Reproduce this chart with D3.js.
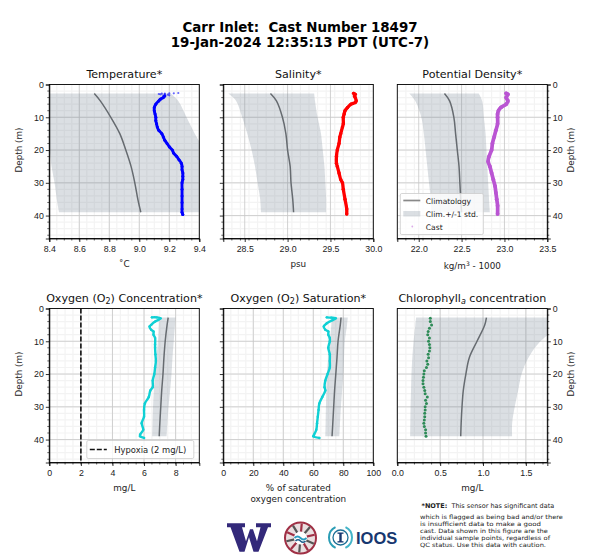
<!DOCTYPE html>
<html>
<head>
<meta charset="utf-8">
<script src="https://d3js.org/d3.v7.min.js"></script>
<style>
  html, body { margin: 0; padding: 0; background: #fff; }
  svg { display: block; font-family: "DejaVu Sans", sans-serif; }
  text { white-space: pre; }
  .tick text { font-size: 8.8px; fill: #222; }
  .tick line, .domain { stroke: #000; stroke-width: 0.8; }
  .grid-major line { stroke: #c6c6c6; stroke-width: 0.8; }
  .grid-minor line { stroke: #f3f3f3; stroke-width: 1.2; }
</style>
</head>
<body>
<svg id="chart" width="600" height="560"></svg>
<script>
// depth of each row, shared by climatology and band
const climDepth = [2.75, 5, 10, 15, 20, 25, 30, 35, 39];

// temperature
const tempClim = [8.70, 8.74, 8.81, 8.87, 8.91, 8.945, 8.97, 8.99, 9.01];
const tempLow  = [8.14, 8.20, 8.28, 8.35, 8.40, 8.415, 8.435, 8.45, 8.465];
const tempHigh = [9.21, 9.26, 9.315, 9.37, 9.43, 9.46, 9.48, 9.50, 9.52];
const tempSprayDepth = [2.6, 2.7, 2.7, 2.8, 2.8, 2.9, 3, 3, 3.1, 3.3, 3.4];
const tempSpray = [9.26, 9.23, 9.20, 9.17, 9.15, 9.13, 9.14, 9.17, 9.19, 9.20, 9.16];
const tempCastDepth = [3.5, 4, 4.5, 5, 6, 7, 8, 9, 10, 11, 12, 13, 14, 15, 16, 17, 18, 19, 20, 21, 22, 23, 24, 25, 26, 27, 28, 29, 30, 32, 34, 36, 38, 39, 39.7];
const tempCast = [9.17, 9.16, 9.14, 9.13, 9.11, 9.10, 9.10, 9.105, 9.11, 9.11, 9.115, 9.12, 9.13, 9.15, 9.16, 9.17, 9.185, 9.20, 9.22, 9.23, 9.25, 9.265, 9.28, 9.285, 9.285, 9.29, 9.29, 9.29, 9.285, 9.285, 9.285, 9.285, 9.285, 9.285, 9.29];

// salinity
const salClim = [28.80, 28.87, 28.94, 28.98, 29.00, 29.03, 29.04, 29.06, 29.07];
const salLow  = [28.31, 28.40, 28.47, 28.53, 28.58, 28.62, 28.65, 28.68, 28.69];
const salHigh = [29.31, 29.32, 29.35, 29.39, 29.41, 29.43, 29.44, 29.45, 29.45];
const salCastDepth = [2.7, 3, 3.5, 4, 5, 5.5, 6, 7, 8, 9, 10, 12, 13, 15, 16, 18, 20, 22, 24, 25, 27, 29, 30, 32, 35, 38, 39.5];
const salCast = [29.77, 29.79, 29.78, 29.79, 29.80, 29.79, 29.74, 29.70, 29.67, 29.66, 29.65, 29.65, 29.64, 29.62, 29.61, 29.60, 29.58, 29.57, 29.57, 29.58, 29.60, 29.62, 29.64, 29.65, 29.67, 29.69, 29.69];

// potential density
const rhoClim = [22.30, 22.36, 22.41, 22.43, 22.45, 22.47, 22.48, 22.49, 22.50];
const rhoLow  = [21.89, 21.96, 22.03, 22.06, 22.08, 22.10, 22.12, 22.14, 22.15];
const rhoHigh = [22.70, 22.74, 22.76, 22.78, 22.79, 22.80, 22.81, 22.82, 22.83];
const rhoCastDepth = [2.7, 3, 4, 5, 6, 7, 8, 9, 10, 12, 14, 16, 18, 20, 22, 23.5, 25, 27, 29, 31, 33, 35, 37, 39.5];
const rhoCast = [23.02, 23.04, 23.02, 23.04, 23.02, 22.96, 22.93, 22.92, 22.92, 22.92, 22.90, 22.88, 22.86, 22.85, 22.82, 22.81, 22.83, 22.85, 22.87, 22.89, 22.90, 22.91, 22.92, 22.92];

// oxygen concentration
const oxyClim = [7.53, 7.46, 7.34, 7.26, 7.20, 7.12, 7.06, 7.00, 6.96];
const oxyLow  = [6.96, 6.93, 6.88, 6.78, 6.69, 6.62, 6.57, 6.54, 6.52];
const oxyHigh = [8.00, 7.96, 7.88, 7.80, 7.74, 7.65, 7.55, 7.48, 7.43];
const oxyCastDepth = [2.7, 2.7, 3, 3.5, 4, 5, 5.5, 6.5, 7, 8, 9, 11, 12, 14, 16, 18, 20, 22, 24, 25, 27, 29, 31, 33, 35, 37, 38.5, 39, 39.5];
const oxyCast = [6.5, 6.8, 7.05, 6.9, 6.7, 6.45, 6.35, 6.45, 6.6, 6.6, 6.7, 6.7, 6.7, 6.72, 6.75, 6.7, 6.65, 6.55, 6.55, 6.4, 6.3, 6.05, 6.0, 6.0, 5.85, 5.95, 5.75, 5.75, 6.0];
const hypoxia = 2;

// oxygen saturation
const satClim = [78.5, 78.0, 76.5, 75.8, 75.0, 74.2, 73.6, 73.0, 72.5];
const satLow  = [72.2, 72.0, 71.0, 70.0, 69.0, 68.7, 68.4, 68.2, 68.0];
const satHigh = [83.0, 82.5, 81.0, 80.5, 80.0, 79.2, 78.4, 77.8, 77.3];
const satCastDepth = [2.7, 2.8, 3, 3.5, 4.5, 5.5, 6.5, 7, 8, 9, 10, 12, 14, 16, 18, 20, 22, 24, 25, 27, 29, 31, 33, 35, 37, 38.5, 39, 39.5];
const satCast = [69, 72, 75, 73, 69, 67, 68, 70, 70, 71, 71, 70, 71, 71, 71, 69.5, 68, 67.5, 68, 66, 64, 63.5, 63, 62.5, 62, 60.5, 60, 64];

// chlorophyll
const chlClim = [1.04, 1.02, 0.93, 0.84, 0.80, 0.77, 0.755, 0.745, 0.74];
const chlLow  = [0.22, 0.21, 0.19, 0.175, 0.165, 0.16, 0.155, 0.152, 0.15];
const chlHigh = [2.05, 1.92, 1.67, 1.53, 1.45, 1.41, 1.37, 1.34, 1.34];
const chlCastDepth = [3, 4, 5, 6, 7, 8, 9, 10, 11, 12, 13, 14, 15, 16, 17, 18, 19, 20, 21, 22, 23, 24, 25, 26, 27, 28, 29, 30, 31, 32, 33, 34, 35, 36, 37, 38, 39];
const chlCast = [0.385, 0.385, 0.40, 0.375, 0.36, 0.355, 0.375, 0.365, 0.375, 0.38, 0.375, 0.36, 0.365, 0.345, 0.355, 0.34, 0.315, 0.31, 0.305, 0.30, 0.30, 0.31, 0.32, 0.325, 0.35, 0.33, 0.34, 0.325, 0.325, 0.32, 0.32, 0.315, 0.31, 0.315, 0.33, 0.33, 0.335];

const svg = d3.select("#chart");
const panelW = 150, panelH = 154;
const depthDomain = [0, 47];

svg.append("text").attr("x", 300).attr("y", 32).attr("text-anchor", "middle")
  .style("font-size", "13.4px").style("font-weight", "bold").text("Carr Inlet:  Cast Number 18497");
svg.append("text").attr("x", 300).attr("y", 47).attr("text-anchor", "middle")
  .style("font-size", "13.4px").style("font-weight", "bold").text("19-Jan-2024 12:35:13 PDT (UTC-7)");

// one clip per panel, grid under band, band and lines on top
function drawPanel(p) {
  const g = svg.append("g").attr("transform", `translate(${p.x},${p.y})`);
  const x = d3.scaleLinear().domain(p.domain).range([0, panelW]);
  const y = d3.scaleLinear().domain(depthDomain).range([0, panelH]);
  const minorX = d3.range(p.domain[0], p.domain[1] + 1e-9, p.minor);

  g.append("clipPath").attr("id", "clip" + p.id).append("rect").attr("width", panelW).attr("height", panelH);

  g.append("g").attr("class", "grid-minor")
    .selectAll("line").data(minorX).join("line")
    .attr("x1", d => x(d)).attr("x2", d => x(d)).attr("y1", 0).attr("y2", panelH);
  g.append("g").attr("class", "grid-minor")
    .selectAll("line").data(d3.range(0, 47, 2)).join("line")
    .attr("x1", 0).attr("x2", panelW).attr("y1", d => y(d)).attr("y2", d => y(d));
  g.append("g").attr("class", "grid-major")
    .selectAll("line").data(p.ticks).join("line")
    .attr("x1", d => x(d)).attr("x2", d => x(d)).attr("y1", 0).attr("y2", panelH);
  g.append("g").attr("class", "grid-major")
    .selectAll("line").data([10, 20, 30, 40]).join("line")
    .attr("x1", 0).attr("x2", panelW).attr("y1", d => y(d)).attr("y2", d => y(d));

  const marks = g.append("g").attr("clip-path", `url(#clip${p.id})`);
  const band = d3.area().x0((d, i) => x(p.low[i])).x1((d, i) => x(p.high[i])).y(d => y(d)).curve(d3.curveCatmullRom);
  marks.append("path").attr("d", band(climDepth)).attr("fill", "#708090").attr("opacity", 0.25);

  const clim = d3.line().x((d, i) => x(p.clim[i])).y(d => y(d)).curve(d3.curveCatmullRom);
  marks.append("path").attr("d", clim(climDepth)).attr("fill", "none").attr("stroke", "#666b70").attr("stroke-width", 1.5);

  if (p.hline !== undefined) {
    marks.append("line").attr("x1", x(p.hline)).attr("x2", x(p.hline)).attr("y1", 0).attr("y2", panelH)
      .attr("stroke", "#111").attr("stroke-width", 1.6).attr("stroke-dasharray", "5,2");
  }

  const cast = d3.line().x((d, i) => x(p.cast[i])).y(d => y(d)).curve(d3.curveCatmullRom);
  if (p.castLine) {
    marks.append("path").attr("d", cast(p.castDepth)).attr("fill", "none")
      .attr("stroke", p.color).attr("stroke-width", p.castLine).attr("stroke-linejoin", "round").attr("stroke-linecap", "round");
  }
  marks.append("g").selectAll("circle").data(p.castDepth).join("circle")
    .attr("cx", (d, i) => x(p.cast[i])).attr("cy", d => y(d)).attr("r", p.r).attr("fill", p.color);
  if (p.spray) {
    marks.append("g").selectAll("circle").data(p.sprayDepth).join("circle")
      .attr("cx", (d, i) => x(p.spray[i])).attr("cy", d => y(d)).attr("r", 1.1).attr("fill", p.color).attr("opacity", 0.6);
  }

  // axes
  g.append("g").attr("transform", `translate(0,${panelH})`)
    .call(d3.axisBottom(x).tickValues(p.ticks).tickFormat(p.fmt).tickSize(3.5).tickPadding(4));
  const side = p.right ? d3.axisRight(y) : d3.axisLeft(y);
  const sideG = g.append("g").attr("transform", `translate(${p.right ? panelW : 0},0)`)
    .call(side.tickValues([0, 10, 20, 30, 40]).tickSize(3.5).tickPadding(2));
  if (!p.showDepth) { sideG.selectAll("text").remove(); }
  // minor ticks
  g.append("g").selectAll("line").data(d3.range(2, 47, 2).filter(d => d % 10)).join("line")
    .attr("x1", p.right ? panelW : 0).attr("x2", p.right ? panelW + 2 : -2)
    .attr("y1", d => y(d)).attr("y2", d => y(d)).attr("stroke", "#000").attr("stroke-width", 0.6);
  g.append("g").selectAll("line").data(minorX).join("line")
    .attr("x1", d => x(d)).attr("x2", d => x(d)).attr("y1", panelH).attr("y2", panelH + 2)
    .attr("stroke", "#000").attr("stroke-width", 0.6);
  // frame
  g.append("rect").attr("width", panelW).attr("height", panelH).attr("fill", "none").attr("stroke", "#000").attr("stroke-width", 0.9);

  // title, may carry a sub or superscript part
  const title = g.append("text").attr("x", panelW / 2).attr("y", -7).attr("text-anchor", "middle").style("font-size", "11.1px").attr("fill", "#111");
  p.title.forEach(t => {
    const s = title.append("tspan").text(t.text);
    if (t.sub) { s.attr("dy", 2).style("font-size", "8px").style("font-style", t.italic ? "italic" : "normal"); }
    else if (t.after) { s.attr("dy", -2); }
  });

  // x label lines
  p.xlabel.forEach((t, i) => {
    const lab = g.append("text").attr("x", panelW / 2).attr("y", panelH + 28 + i * 11).attr("text-anchor", "middle")
      .style("font-size", "8.8px").attr("fill", "#222");
    if (t === "kg") {
      lab.attr("y", panelH + 30);
      lab.append("tspan").text("kg/m");
      lab.append("tspan").text("3").attr("dy", -3).style("font-size", "6px");
      lab.append("tspan").text(" - 1000").attr("dy", 3);
    } else { lab.text(t); }
  });

  if (p.showDepth) {
    const lx = p.right ? panelW + 27 : -27;
    g.append("text").attr("transform", `translate(${lx},${y(20)}) rotate(-90)`).attr("text-anchor", "middle")
      .style("font-size", "8.8px").attr("fill", "#222").text("Depth (m)");
  }
  return g;
}

const rowTop = [84.5, 308.5];
const fmt1 = d3.format(".1f");

drawPanel({ id: 1, x: 49.3, y: rowTop[0], domain: [8.4, 9.4], ticks: [8.4, 8.6, 8.8, 9.0, 9.2, 9.4], minor: 0.05, fmt: fmt1,
  clim: tempClim, low: tempLow, high: tempHigh, castDepth: tempCastDepth, cast: tempCast, sprayDepth: tempSprayDepth, spray: tempSpray, color: "#0000ff", r: 1.5, castLine: 2.9,
  title: [{ text: "Temperature*" }], xlabel: ["˚C"], showDepth: true });
drawPanel({ id: 2, x: 223.3, y: rowTop[0], domain: [28.25, 30], ticks: [28.5, 29, 29.5, 30], minor: 0.1, fmt: fmt1,
  clim: salClim, low: salLow, high: salHigh, castDepth: salCastDepth, cast: salCast, color: "#ff0000", r: 1.7, castLine: 3.3,
  title: [{ text: "Salinity*" }], xlabel: ["psu"] });
const rhoG = drawPanel({ id: 3, x: 397.3, y: rowTop[0], domain: [21.75, 23.5], ticks: [22, 22.5, 23, 23.5], minor: 0.1, fmt: fmt1,
  clim: rhoClim, low: rhoLow, high: rhoHigh, castDepth: rhoCastDepth, cast: rhoCast, color: "#ba55d3", r: 1.9, castLine: 3.7,
  title: [{ text: "Potential Density*" }], xlabel: ["kg"], showDepth: true, right: true });
const oxyG = drawPanel({ id: 4, x: 49.3, y: rowTop[1], domain: [0, 9.5], ticks: [0, 2, 4, 6, 8], minor: 0.5, fmt: d3.format("d"),
  clim: oxyClim, low: oxyLow, high: oxyHigh, castDepth: oxyCastDepth, cast: oxyCast, color: "#10d0d4", r: 1.2, castLine: 2.4, hline: hypoxia,
  title: [{ text: "Oxygen (O" }, { text: "2", sub: true }, { text: ") Concentration*", after: true }], xlabel: ["mg/L"], showDepth: true });
drawPanel({ id: 5, x: 223.3, y: rowTop[1], domain: [0, 100], ticks: [0, 20, 40, 60, 80, 100], minor: 5, fmt: d3.format("d"),
  clim: satClim, low: satLow, high: satHigh, castDepth: satCastDepth, cast: satCast, color: "#10d0d4", r: 1.2, castLine: 2.4,
  title: [{ text: "Oxygen (O" }, { text: "2", sub: true }, { text: ") Saturation*", after: true }], xlabel: ["% of saturated", "oxygen concentration"] });
drawPanel({ id: 6, x: 397.3, y: rowTop[1], domain: [0, 1.75], ticks: [0, 0.5, 1, 1.5], minor: 0.1, fmt: fmt1,
  clim: chlClim, low: chlLow, high: chlHigh, castDepth: chlCastDepth, cast: chlCast, color: "#2e8b57", r: 1.5,
  title: [{ text: "Chlorophyll" }, { text: "a", sub: true, italic: true }, { text: " concentration", after: true }], xlabel: ["mg/L"], showDepth: true, right: true });

// legend, density panel
const lg = rhoG.append("g").attr("transform", "translate(3,109)");
lg.append("rect").attr("width", 83).attr("height", 41).attr("rx", 1.5).attr("fill", "#fff").attr("fill-opacity", 0.8).attr("stroke", "#ccc").attr("stroke-width", 0.8);
lg.append("line").attr("x1", 3).attr("x2", 20).attr("y1", 7).attr("y2", 7).attr("stroke", "#888").attr("stroke-width", 1.7);
lg.append("rect").attr("x", 3).attr("y", 17.5).attr("width", 17).attr("height", 5.5).attr("fill", "#708090").attr("opacity", 0.25);
lg.append("circle").attr("cx", 12).attr("cy", 33).attr("r", 0.9).attr("fill", "#ba55d3").attr("opacity", 0.5);
["Climatology", "Clim.+/-1 std.", "Cast"].forEach((t, i) => {
  lg.append("text").attr("x", 25.5).attr("y", 10 + i * 13).style("font-size", "7.6px").attr("fill", "#222").text(t);
});

// legend, oxygen panel
const lo = oxyG.append("g").attr("transform", "translate(37.5,132)");
lo.append("rect").attr("width", 107).attr("height", 18).attr("rx", 1.5).attr("fill", "#fff").attr("fill-opacity", 0.8).attr("stroke", "#ccc").attr("stroke-width", 0.8);
lo.append("line").attr("x1", 3).attr("x2", 20).attr("y1", 9).attr("y2", 9).attr("stroke", "#111").attr("stroke-width", 1.6).attr("stroke-dasharray", "5,2");
lo.append("text").attr("x", 27.5).attr("y", 12).style("font-size", "8.4px").attr("fill", "#222").text("Hypoxia (2 mg/L)");

// logos
svg.append("path").attr("transform", "translate(227,523.3)").attr("fill", "#33297a")
  .attr("d", "M0 0 H18 V4 H15 L19 18 L23 6 H26 L30 18 L33.5 4 H29 V0 H44 V4 H41 L31.5 28.5 H26.5 L22 14 L17.5 28.5 H12.5 L3.5 4 H0 Z");

const seal = svg.append("g").attr("transform", "translate(300.5,538)");
seal.append("circle").attr("r", 15.5).attr("fill", "#eadfe0").attr("stroke", "#a03045").attr("stroke-width", 2);
d3.range(0, 10).forEach(i => {
  const a = i * Math.PI / 5 + 0.4;
  seal.append("line").attr("x1", 6 * Math.cos(a)).attr("y1", 6 * Math.sin(a)).attr("x2", 14.5 * Math.cos(a)).attr("y2", 14.5 * Math.sin(a))
    .attr("stroke", i % 2 ? "#a03045" : "#555").attr("stroke-width", 2.2);
});
seal.append("circle").attr("r", 6.5).attr("fill", "#fff");
seal.append("path").attr("d", "M-6,0 q3,-3 6,0 t6,0").attr("fill", "none").attr("stroke", "#2a9cc0").attr("stroke-width", 1.8);
seal.append("path").attr("d", "M-5,3 q2.5,-2.5 5,0 t5,0").attr("fill", "none").attr("stroke", "#1f5f8b").attr("stroke-width", 1.5);

const ioos = svg.append("g").attr("transform", "translate(340.5,537.5)");
const arc = d3.arc();
ioos.append("path").attr("d", arc({ innerRadius: 10.5, outerRadius: 12.5, startAngle: -2.7, endAngle: -0.45 })).attr("fill", "#2a9db5");
ioos.append("path").attr("d", arc({ innerRadius: 10.5, outerRadius: 12.5, startAngle: 0.45, endAngle: 2.7 })).attr("fill", "#43b4c8");
ioos.append("circle").attr("r", 7.5).attr("fill", "none").attr("stroke", "#1c6f96").attr("stroke-width", 1.3);
ioos.append("rect").attr("x", -1.2).attr("y", -4.5).attr("width", 2.4).attr("height", 9).attr("fill", "#17376f");
ioos.append("rect").attr("x", -3).attr("y", -5).attr("width", 6).attr("height", 1.3).attr("fill", "#17376f");
ioos.append("rect").attr("x", -3).attr("y", 3.7).attr("width", 6).attr("height", 1.3).attr("fill", "#17376f");
svg.append("text").attr("x", 356).attr("y", 543.5).style("font-weight", "bold").style("font-size", "16.5px")
  .style("font-family", "'Liberation Sans', sans-serif").attr("fill", "#17376f").text("IOOS");

// note, lines stretched sideways so they keep the width but do not collide
const noteLines = ["which is flagged as being bad and/or there", "is insufficient data to make a good", "cast. Data shown in this figure are the", "individual sample points, regardless of", "QC status. Use this data with caution."];
const noteWidth = [143, 121, 128, 130, 126];
const note = svg.append("text").attr("x", 421.5).attr("y", 508.3).style("font-size", "6.5px").attr("fill", "#222");
note.append("tspan").style("font-weight", "bold").text("*NOTE:");
note.append("tspan").text("  This sensor has significant data");
noteLines.forEach((t, i) => {
  svg.append("text").attr("x", 420).attr("y", 518.5 + i * 7).style("font-size", "5.9px").attr("fill", "#222")
    .attr("textLength", noteWidth[i]).attr("lengthAdjust", "spacingAndGlyphs").text(t);
});
</script>
</body>
</html>
